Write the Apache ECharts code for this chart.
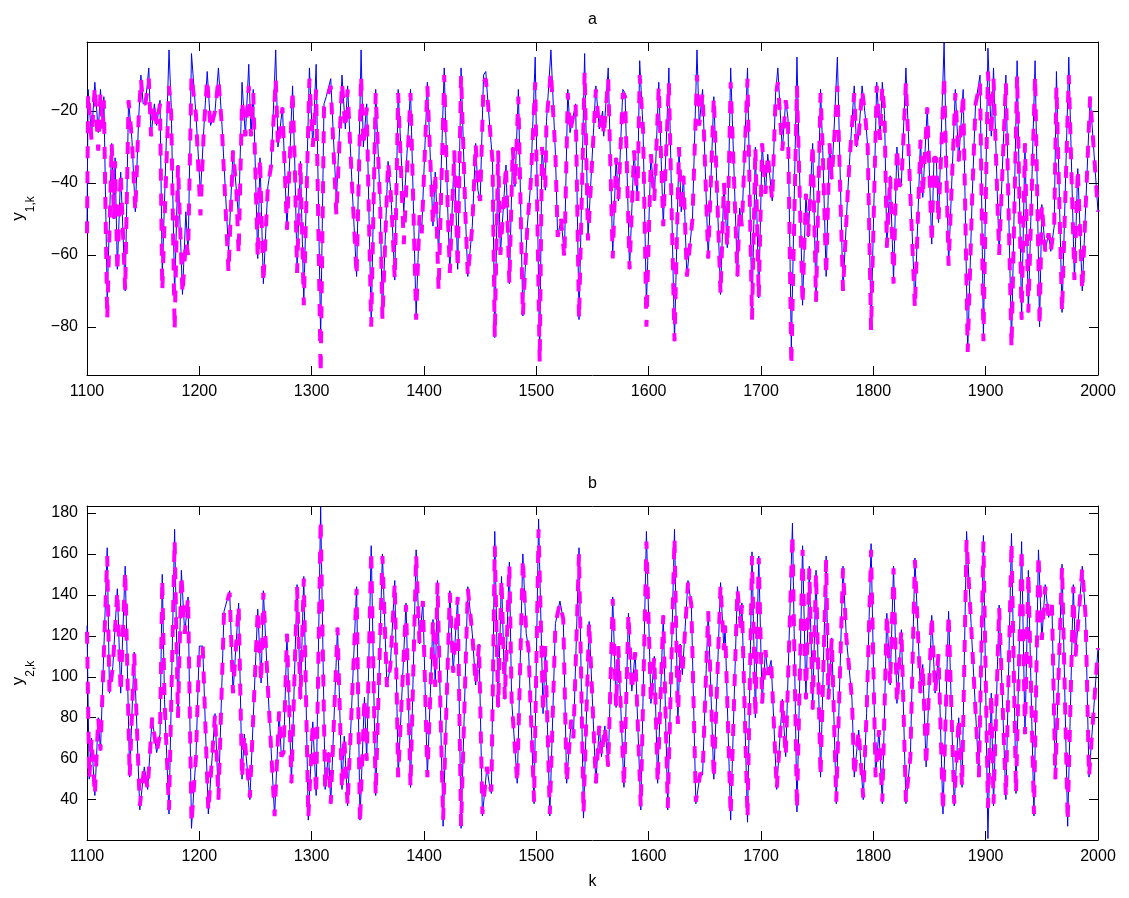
<!DOCTYPE html>
<html><head><meta charset="utf-8">
<script src="https://cdn.jsdelivr.net/npm/echarts@6/dist/echarts.min.js"></script>
<style>html,body{margin:0;padding:0;background:#fff}#c{width:1129px;height:898px}</style>
</head><body><div id="c"></div>
<script>
// ---- data (k, value) ----
const y1Measured = [
[1100,-52],[1101,-14],[1104,-27],[1107,-12],[1110,-26],[1112,-14],[1114,-24],[1115,-16],[1118,-72],[1122,-29],
[1124,-50],[1125,-33],[1127,-64],[1130,-37],[1134,-70],[1137,-17],[1140,-28],[1143,-48],[1146,-22],[1148,-10],
[1150,-18],[1152,-18],[1155,-8],[1157,-27],[1160,-18],[1162,-24],[1165,-17],[1167,-66],[1173,-3],[1175,-19],
[1178,-71],[1181,-35],[1185,-71],[1188,-48],[1190,-60],[1193,-4],[1197,-21],[1201,-43],[1204,-25],[1207,-9],
[1210,-24],[1214,-20],[1217,-8],[1220,-23],[1226,-59],[1230,-31],[1233,-42],[1235,-50],[1238,-12],[1241,-27],
[1244,-7],[1246,-27],[1248,-14],[1252,-61],[1254,-33],[1257,-68],[1261,-41],[1264,-35],[1268,-3],[1270,-30],
[1274,-19],[1278,-53],[1283,-13],[1285,-35],[1287,-64],[1290,-34],[1293,-73],[1298,-8],[1301,-30],[1304,-7],
[1308,-83],[1311,-18],[1313,-16],[1317,-11],[1322,-45],[1327,-10],[1330,-25],[1332,-13],[1336,-41],[1340,-66],
[1344,-3],[1346,-30],[1349,-18],[1353,-79],[1357,-14],[1361,-46],[1363,-77],[1368,-34],[1370,-41],[1371,-46],
[1374,-67],[1377,-14],[1382,-48],[1388,-14],[1393,-77],[1396,-49],[1398,-53],[1403,-12],[1408,-52],[1410,-37],
[1413,-60],[1418,-8],[1421,-46],[1423,-65],[1427,-31],[1430,-64],[1433,-8],[1437,-50],[1439,-66],[1443,-52],
[1446,-29],[1448,-42],[1450,-45],[1453,-10],[1455,-9],[1457,-18],[1461,-34],[1463,-83],[1466,-31],[1468,-60],
[1473,-35],[1476,-68],[1479,-30],[1481,-41],[1484,-14],[1488,-77],[1492,-52],[1495,-40],[1499,-5],[1503,-89],
[1505,-30],[1508,-42],[1509,-23],[1513,-3],[1517,-32],[1519,-55],[1522,-50],[1525,-60],[1528,-14],[1530,-26],
[1535,-18],[1538,-78],[1543,-4],[1546,-55],[1553,-13],[1556,-25],[1559,-20],[1560,-27],[1564,-8],[1568,-60],
[1571,-33],[1573,-45],[1577,-14],[1579,-15],[1583,-64],[1587,-31],[1590,-45],[1592,-6],[1595,-25],[1598,-74],
[1602,-32],[1605,-45],[1609,-12],[1613,-52],[1618,-8],[1623,-84],[1627,-30],[1629,-48],[1631,-38],[1634,-66],
[1639,-50],[1643,-3],[1645,-24],[1648,-14],[1653,-61],[1658,-16],[1664,-71],[1667,-40],[1670,-58],[1673,-8],
[1679,-66],[1681,-47],[1683,-52],[1688,-8],[1692,-77],[1695,-30],[1698,-72],[1701,-29],[1704,-43],[1706,-32],
[1710,-45],[1713,-15],[1715,-8],[1719,-31],[1722,-17],[1724,-22],[1727,-86],[1732,-5],[1737,-74],[1740,-43],
[1742,-55],[1746,-29],[1749,-73],[1753,-14],[1755,-31],[1758,-66],[1761,-29],[1763,-39],[1768,-5],[1773,-70],
[1777,-44],[1779,-33],[1783,-13],[1785,-30],[1787,-27],[1790,-13],[1793,-22],[1795,-30],[1798,-80],[1803,-12],
[1806,-28],[1808,-12],[1810,-21],[1812,-58],[1815,-38],[1818,-67],[1821,-30],[1823,-41],[1825,-40],[1829,-8],
[1837,-74],[1842,-28],[1844,-44],[1848,-19],[1852,-57],[1854,-33],[1856,-33],[1858,-51],[1863,-1],[1867,-63],
[1873,-14],[1876,-34],[1880,-14],[1884,-87],[1888,-44],[1891,-18],[1895,-10],[1898,-83],[1902,-2.5],[1905,-27],
[1907,-8],[1912,-60],[1918,-10],[1923,-85],[1928,-6],[1932,-78],[1935,-29],[1938,-76],[1944,-6],[1948,-80],
[1950,-46],[1953,-59],[1956,-54],[1958,-59],[1961,-52],[1963,-9],[1968,-76],[1974,-5],[1979,-67],[1982,-36],
[1986,-70],[1993,-16],[2000,-48]
];
const y1Predicted = [
[1100,-54],[1101,-15],[1104,-28],[1107,-13],[1110,-31],[1112,-15],[1114,-25],[1115,-17],[1118,-78],[1122,-29],
[1124,-50],[1125,-34],[1127,-65],[1130,-37],[1134,-70],[1137,-17],[1140,-28],[1143,-48],[1146,-22],[1148,-11],
[1150,-18],[1152,-18],[1155,-11],[1157,-27],[1160,-18],[1162,-24],[1165,-18],[1167,-70],[1173,-13],[1175,-21],
[1178,-81],[1181,-35],[1185,-71],[1188,-56],[1190,-60],[1193,-10],[1197,-21],[1201,-49],[1204,-25],[1207,-11],
[1210,-25],[1214,-20],[1217,-11],[1220,-24],[1226,-65],[1230,-31],[1233,-42],[1235,-60],[1238,-17],[1241,-27],
[1244,-13],[1246,-27],[1248,-15],[1252,-61],[1254,-33],[1257,-68],[1261,-41],[1264,-35],[1268,-11],[1270,-30],
[1274,-19],[1278,-53],[1283,-14],[1285,-35],[1287,-65],[1290,-34],[1293,-74],[1298,-11],[1301,-30],[1304,-14],
[1308,-93],[1311,-19],[1313,-17],[1317,-13],[1322,-49],[1327,-12],[1330,-25],[1332,-14],[1336,-41],[1340,-66],
[1344,-10],[1346,-30],[1349,-19],[1353,-80],[1357,-15],[1361,-46],[1363,-78],[1368,-34],[1370,-41],[1371,-46],
[1374,-67],[1377,-15],[1382,-57],[1388,-15],[1393,-78],[1396,-49],[1398,-54],[1403,-13],[1408,-52],[1410,-37],
[1413,-70],[1418,-10],[1421,-46],[1423,-65],[1427,-31],[1430,-64],[1433,-10],[1437,-50],[1439,-66],[1443,-52],
[1446,-29],[1448,-42],[1450,-45],[1453,-12],[1455,-11],[1457,-18],[1461,-34],[1463,-83],[1466,-31],[1468,-60],
[1473,-35],[1476,-68],[1479,-30],[1481,-41],[1484,-16],[1488,-77],[1492,-52],[1495,-40],[1499,-12],[1503,-90],
[1505,-30],[1508,-42],[1509,-23],[1513,-9],[1517,-32],[1519,-55],[1522,-50],[1525,-61],[1528,-15],[1530,-26],
[1535,-18],[1538,-78],[1543,-9],[1546,-56],[1553,-14],[1556,-25],[1559,-20],[1560,-27],[1564,-11],[1568,-61],
[1571,-33],[1573,-45],[1577,-15],[1579,-16],[1583,-64],[1587,-31],[1590,-45],[1592,-10],[1595,-25],[1598,-80],
[1602,-32],[1605,-45],[1609,-13],[1613,-52],[1618,-12],[1623,-84],[1627,-30],[1629,-48],[1631,-38],[1634,-66],
[1639,-50],[1643,-10],[1645,-24],[1648,-15],[1653,-61],[1658,-16],[1664,-71],[1667,-40],[1670,-58],[1673,-12],
[1679,-66],[1681,-47],[1683,-52],[1688,-11],[1692,-78],[1695,-30],[1698,-72],[1701,-29],[1704,-43],[1706,-32],
[1710,-45],[1713,-16],[1715,-12],[1719,-31],[1722,-17],[1724,-22],[1727,-91],[1732,-13],[1737,-74],[1740,-43],
[1742,-55],[1746,-29],[1749,-73],[1753,-15],[1755,-31],[1758,-66],[1761,-29],[1763,-39],[1768,-13],[1773,-70],
[1777,-44],[1779,-33],[1783,-15],[1785,-30],[1787,-27],[1790,-14],[1793,-22],[1795,-30],[1798,-81],[1803,-13],
[1806,-28],[1808,-13],[1810,-21],[1812,-58],[1815,-38],[1818,-68],[1821,-30],[1823,-41],[1825,-40],[1829,-12],
[1837,-75],[1842,-28],[1844,-44],[1848,-19],[1852,-57],[1854,-33],[1856,-33],[1858,-51],[1863,-10],[1867,-63],
[1873,-15],[1876,-34],[1880,-15],[1884,-87],[1888,-44],[1891,-18],[1895,-12],[1898,-84],[1902,-9],[1905,-27],
[1907,-11],[1912,-60],[1918,-12],[1923,-86],[1928,-10],[1932,-78],[1935,-29],[1938,-76],[1944,-10],[1948,-80],
[1950,-46],[1953,-59],[1956,-54],[1958,-59],[1961,-52],[1963,-13],[1968,-76],[1974,-10],[1979,-67],[1982,-36],
[1986,-70],[1993,-16],[2000,-48]
];
const y2Measured = [
[1100,125],[1102,50],[1104,70],[1107,42],[1110,80],[1112,64],[1118,163],[1120,92],[1123,105],[1127,143],
[1130,92],[1134,154],[1138,51],[1142,112],[1147,35],[1151,56],[1154,45],[1158,80],[1162,63],[1165,72],
[1167,150],[1169,89],[1173,33],[1178,172],[1181,80],[1184,152],[1187,121],[1190,139],[1193,26],[1197,61],
[1200,115],[1203,115],[1208,33],[1214,82],[1217,40],[1222,132],[1227,142],[1230,92],[1235,136],[1238,50],
[1240,72],[1245,40],[1252,133],[1255,97],[1257,142],[1261,95],[1267,32],[1271,83],[1273,61],[1275,63],
[1278,121],[1282,48],[1287,145],[1290,89],[1293,149],[1297,30],[1301,78],[1304,42],[1308,183],[1312,45],
[1315,63],[1317,38],[1323,124],[1327,45],[1329,71],[1332,37],[1340,144],[1343,30],[1347,90],[1349,59],
[1353,164],[1357,42],[1363,160],[1367,95],[1370,105],[1374,147],[1377,51],[1384,136],[1388,46],[1393,162],
[1396,116],[1399,137],[1403,51],[1408,128],[1410,95],[1412,147],[1417,27],[1423,142],[1426,102],[1430,139],
[1433,26],[1439,144],[1443,121],[1446,96],[1449,116],[1452,32],[1456,56],[1458,48],[1460,43],[1463,171],
[1466,85],[1469,149],[1472,89],[1476,156],[1478,89],[1483,48],[1488,160],[1491,121],[1493,114],[1498,38],
[1502,177],[1506,82],[1508,115],[1512,32],[1517,126],[1521,137],[1524,128],[1527,48],[1531,79],[1533,70],
[1538,163],[1542,31],[1547,127],[1553,48],[1556,76],[1558,61],[1561,76],[1564,56],[1568,139],[1571,85],
[1573,115],[1578,46],[1582,131],[1585,93],[1588,112],[1593,35],[1598,171],[1602,87],[1605,110],[1608,48],
[1613,130],[1617,35],[1623,172],[1626,77],[1628,116],[1630,101],[1635,147],[1638,135],[1642,38],[1646,53],
[1648,52],[1653,132],[1658,50],[1664,146],[1667,113],[1668,125],[1673,30],[1679,144],[1682,124],[1683,136],
[1688,29],[1692,161],[1695,80],[1698,159],[1701,87],[1704,113],[1706,101],[1709,108],[1714,45],[1719,89],
[1722,61],[1728,175],[1732,34],[1737,164],[1740,89],[1743,154],[1746,84],[1749,152],[1753,51],[1758,159],
[1760,89],[1763,119],[1767,38],[1773,154],[1776,119],[1781,89],[1783,51],[1787,74],[1791,40],[1794,82],
[1798,165],[1802,51],[1805,74],[1808,38],[1812,131],[1815,96],[1818,154],[1821,87],[1825,123],[1829,38],
[1833,61],[1837,158],[1842,92],[1844,106],[1847,56],[1852,130],[1855,92],[1858,111],[1862,33],[1867,132],
[1872,37],[1876,80],[1879,46],[1883,171],[1887,126],[1888,115],[1894,51],[1898,169],[1902,21],[1905,92],
[1907,37],[1912,135],[1918,40],[1923,170],[1927,43],[1932,166],[1935,72],[1938,152],[1943,32],[1947,162],
[1950,118],[1953,145],[1956,129],[1959,135],[1962,50],[1968,155],[1973,27],[1978,145],[1980,110],[1986,154],
[1989,129],[1992,51],[2000,114]
];
const y2Predicted = [
[1100,122],[1102,50],[1104,70],[1107,42],[1110,80],[1112,64],[1118,159],[1120,92],[1123,105],[1127,142],
[1130,92],[1134,152],[1138,51],[1142,112],[1147,37],[1151,56],[1154,45],[1158,80],[1162,63],[1165,72],
[1167,148],[1169,89],[1173,35],[1178,167],[1181,80],[1184,150],[1187,121],[1190,139],[1193,28],[1197,61],
[1200,115],[1203,115],[1208,34],[1214,82],[1217,40],[1222,132],[1227,141],[1230,92],[1235,135],[1238,50],
[1240,72],[1245,41],[1252,133],[1255,97],[1257,141],[1261,95],[1267,32],[1271,83],[1273,61],[1275,63],
[1278,121],[1282,48],[1287,144],[1290,89],[1293,148],[1297,31],[1301,78],[1304,42],[1308,177],[1312,45],
[1315,63],[1317,38],[1323,124],[1327,45],[1329,71],[1332,37],[1340,143],[1343,28],[1347,90],[1349,59],
[1353,162],[1357,42],[1363,159],[1367,95],[1370,105],[1374,146],[1377,51],[1384,135],[1388,46],[1393,160],
[1396,116],[1399,137],[1403,51],[1408,128],[1410,95],[1412,146],[1417,30],[1423,141],[1426,102],[1430,139],
[1433,27],[1439,143],[1443,121],[1446,96],[1449,116],[1452,33],[1456,56],[1458,48],[1460,44],[1463,164],
[1466,85],[1469,148],[1472,89],[1476,155],[1478,89],[1483,48],[1488,158],[1491,121],[1493,114],[1498,39],
[1502,172],[1506,82],[1508,115],[1512,33],[1517,126],[1521,136],[1524,128],[1527,48],[1531,79],[1533,70],
[1538,160],[1542,33],[1547,127],[1553,48],[1556,76],[1558,61],[1561,76],[1564,56],[1568,138],[1571,85],
[1573,115],[1578,46],[1582,131],[1585,93],[1588,112],[1593,36],[1598,166],[1602,87],[1605,110],[1608,48],
[1613,130],[1617,36],[1623,168],[1626,77],[1628,116],[1630,101],[1635,146],[1638,135],[1642,39],[1646,53],
[1648,52],[1653,132],[1658,50],[1664,145],[1667,113],[1668,125],[1673,32],[1679,143],[1682,124],[1683,135],
[1688,31],[1692,159],[1695,80],[1698,158],[1701,87],[1704,113],[1706,101],[1709,108],[1714,45],[1719,89],
[1722,61],[1728,170],[1732,35],[1737,162],[1740,89],[1743,153],[1746,84],[1749,151],[1753,51],[1758,157],
[1760,89],[1763,119],[1767,39],[1773,153],[1776,119],[1781,89],[1783,51],[1787,74],[1791,41],[1794,82],
[1798,162],[1802,51],[1805,74],[1808,39],[1812,131],[1815,96],[1818,153],[1821,87],[1825,123],[1829,39],
[1833,61],[1837,157],[1842,92],[1844,106],[1847,56],[1852,130],[1855,92],[1858,111],[1862,34],[1867,131],
[1872,38],[1876,80],[1879,46],[1883,167],[1887,126],[1888,115],[1894,51],[1898,166],[1902,36],[1905,92],
[1907,38],[1912,134],[1918,41],[1923,166],[1927,43],[1932,163],[1935,72],[1938,151],[1943,33],[1947,160],
[1950,118],[1953,144],[1956,129],[1959,135],[1962,50],[1968,154],[1973,29],[1978,144],[1980,110],[1986,153],
[1989,129],[1992,51],[2000,114]
];
const kTicks = [1100,1200,1300,1400,1500,1600,1700,1800,1900,2000];
const y1Ticks = [-80,-60,-40,-20];
const y2Ticks = [40,60,80,100,120,140,160,180];
const y1Range = [-93.4, -0.8];
const y2Range = [20.3, 183.4];
const kRange = [1100, 2000];

// ---- chart ----
const FONT = '"Liberation Sans", Arial, Helvetica, sans-serif';
const chart = echarts.init(document.getElementById('c'), null, {renderer: 'canvas'});
const fmt = v => String(v).replace('-', '\u2212');
const lineBlack = {show: true, onZero: false, lineStyle: {color: '#000', width: 1}};

function xAx(grid, pos, showLabel, name, gap) {
  return {
    type: 'value', gridIndex: grid, position: pos, min: kRange[0], max: kRange[1], interval: 100,
    axisLine: lineBlack,
    axisTick: {show: true, inside: true, length: 9, customValues: kTicks, lineStyle: {color: '#000', width: 1}},
    axisLabel: {show: showLabel, customValues: kTicks, formatter: v => String(v), color: '#000', fontSize: 16, fontFamily: FONT, margin: 9},
    splitLine: {show: false},
    name: name, nameLocation: 'middle', nameGap: gap,
    nameTextStyle: {color: '#000', fontSize: 16, fontFamily: FONT}
  };
}
function yAx(grid, pos, range, ticks, showLabel, name) {
  return {
    type: 'value', gridIndex: grid, position: pos, min: range[0], max: range[1],
    axisLine: lineBlack,
    axisTick: {show: true, inside: true, length: 9, customValues: ticks, lineStyle: {color: '#000', width: 1}},
    axisLabel: {show: showLabel, customValues: ticks, formatter: fmt, color: '#000', fontSize: 16, fontFamily: FONT, margin: 9},
    splitLine: {show: false},
    name: name, nameLocation: 'middle', nameGap: 50, nameRotate: 90,
    nameTextStyle: {
      color: '#000', fontFamily: FONT,
      rich: {
        n: {fontSize: 17, fontFamily: FONT, color: '#000', lineHeight: 17, verticalAlign: 'top'},
        s: {fontSize: 12, fontFamily: FONT, color: '#000', lineHeight: 27, verticalAlign: 'bottom'}
      }
    }
  };
}
function ser(xi, data, color, width, dash, z) {
  return {
    type: 'line', xAxisIndex: xi, yAxisIndex: xi, data: data, symbol: 'none', showSymbol: false,
    lineStyle: {color: color, width: width, type: dash, cap: 'butt'}, z: z, animation: false, clip: true
  };
}

chart.setOption({
  animation: false,
  backgroundColor: '#fff',
  grid: [
    {left: 87, top: 42, width: 1011, height: 333},
    {left: 87, top: 506, width: 1011, height: 334}
  ],
  xAxis: [
    xAx(0, 'bottom', true, '', 0),
    xAx(0, 'top', false, 'a', 14),
    xAx(1, 'bottom', true, 'k', 34),
    xAx(1, 'top', false, 'b', 14)
  ],
  yAxis: [
    yAx(0, 'left', y1Range, y1Ticks, true, '{n|y}{s|1,k}'),
    yAx(0, 'right', y1Range, y1Ticks, false, ''),
    yAx(1, 'left', y2Range, y2Ticks, true, '{n|y}{s|2,k}'),
    yAx(1, 'right', y2Range, y2Ticks, false, '')
  ],
  series: [
    ser(0, y1Measured, '#0000ff', 1, 'solid', 2),
    ser(0, y1Predicted, '#ff00ff', 4, [12, 13], 3),
    ser(2, y2Measured, '#0000ff', 1, 'solid', 2),
    ser(2, y2Predicted, '#ff00ff', 4, [12, 13], 3)
  ]
});
</script>
</body></html>
